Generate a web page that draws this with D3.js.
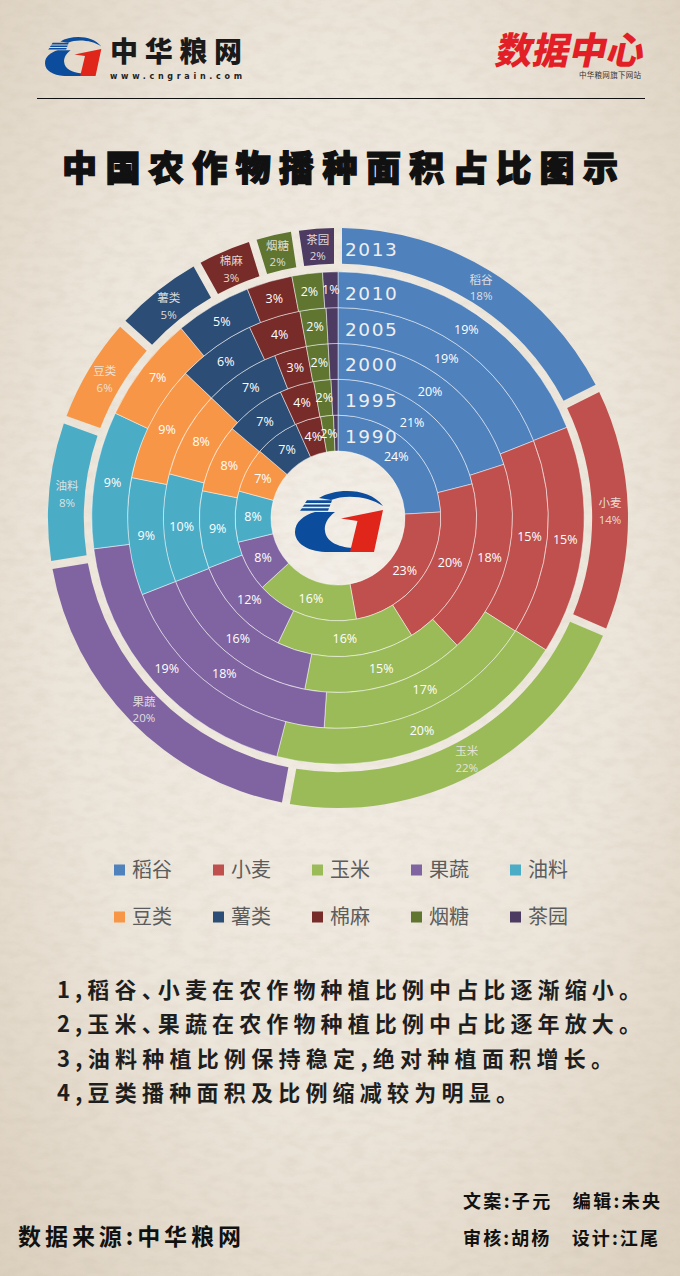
<!DOCTYPE html>
<html><head><meta charset="utf-8">
<script src="https://cdn.jsdelivr.net/npm/d3@7"></script>
<style>
html,body{margin:0;padding:0;background:#e8e0d3;}
svg{display:block;}
.halt{font-feature-settings:"halt" 1;}
</style></head>
<body>
<svg id="c" width="680" height="1276"></svg>
<script>
// ---------- data ----------
const categories = ["稻谷","小麦","玉米","果蔬","油料","豆类","薯类","棉麻","烟糖","茶园"];
const colors = ["#4f81bd","#c0504d","#9bbb59","#8064a2","#4bacc6","#f79646","#2c4d75","#772c2a","#5f7530","#4d3b62"];
const years = ["1990","1995","2000","2005","2010","2013"];
const share1990 = [24,23,16,8,8,7,7,4,2,0.7];
const share1995 = [21,20,16,12,9,8,7,4,2,0.8];
const share2000 = [20,18,15,16,10,8,7,3,2,0.9];
const share2005 = [19,15,17,18,9,9,6,4,2,0.9];
const share2010 = [19,15,20,19,9,7,5,3,2,1];
const share2013 = [18,14,22,20,8,6,5,3,2,2];
const title = "中国农作物播种面积占比图示";
const notes = [
  "1,稻谷、小麦在农作物种植比例中占比逐渐缩小。",
  "2,玉米、果蔬在农作物种植比例中占比逐年放大。",
  "3,油料种植比例保持稳定,绝对种植面积增长。",
  "4,豆类播种面积及比例缩减较为明显。"
];
const shares = [share1990, share1995, share2000, share2005, share2010, share2013];

// ---------- setup ----------
const svg = d3.select("#c");
const W = 680, H = 1276;
const defs = svg.append("defs");
const bg = defs.append("radialGradient").attr("id","bg").attr("cx","50%").attr("cy","45%").attr("r","75%");
bg.append("stop").attr("offset","0%").attr("stop-color","#f3eee7");
bg.append("stop").attr("offset","55%").attr("stop-color","#ece5da");
bg.append("stop").attr("offset","100%").attr("stop-color","#dbcfbd");
const f = defs.append("filter").attr("id","paper").attr("x",0).attr("y",0).attr("width","100%").attr("height","100%");
f.append("feTurbulence").attr("type","fractalNoise").attr("baseFrequency","0.06 0.12").attr("numOctaves",4).attr("seed",3).attr("result","n");
f.append("feColorMatrix").attr("type","matrix")
 .attr("values","0 0 0 0 0.45  0 0 0 0 0.38  0 0 0 0 0.28  0 0 0 -1.2 0.75");
svg.append("rect").attr("width",W).attr("height",H).attr("fill","url(#bg)");
svg.append("rect").attr("width",W).attr("height",H).attr("filter","url(#paper)").attr("opacity",0.18);

const CJK = "'Noto Sans CJK SC','Noto Sans',sans-serif";

// ---------- logo ----------
function drawLogo(g, x, y, s){
  const lg = g.append("g").attr("transform",`translate(${x},${y}) scale(${s})`);
  const blue = "#0b4c9c", red = "#e0251b";
  lg.append("path").attr("fill",blue)
    .attr("d","M24,10 C40,0 74,-1 88,18 C74,8 50,6 36,12 Z");
  [[12.3,15],[16.4,18.8],[20.2,22.7]].forEach((r,i)=>{
    lg.append("path").attr("fill",blue)
      .attr("d",`M${12-2.5*i},${r[0]} L${37-i*1.5},${r[0]} L${36-i*1.5},${r[1]} L${10-2.5*i},${r[1]} Z`);
  });
  lg.append("path").attr("fill",blue)
    .attr("d","M20,24 L40,24 C32,30 29,37 30,43 C31,53 42,59 58,60 L56,64 L30,64 C12,63 0,55 0,44 C0,34 9,27 20,24 Z");
  lg.append("path").attr("fill",red)
    .attr("d","M46,30.5 L88,22 L79,64 L55,64 L62.5,33 Z");
}

// ---------- header ----------
drawLogo(svg, 45, 35, 0.64);
svg.append("text").attr("x",110).attr("y",62).attr("font-family",CJK).attr("font-weight",900)
  .attr("font-size",28).attr("fill","#1a1a1a").attr("textLength",132).attr("lengthAdjust","spacing").text("中华粮网");
svg.append("text").attr("x",110).attr("y",79).attr("font-family","'DejaVu Sans',sans-serif").attr("font-weight","bold")
  .attr("font-size",8).attr("fill","#222").attr("textLength",132).attr("lengthAdjust","spacing").text("www.cngrain.com");
svg.append("text").attr("x",0).attr("y",0).attr("transform","translate(494,64) skewX(-12)")
  .attr("font-family",CJK).attr("font-weight",900).attr("font-size",37).attr("fill","#e21f26")
  .attr("textLength",148).attr("lengthAdjust","spacingAndGlyphs").text("数据中心");
svg.append("text").attr("x",579).attr("y",78).attr("font-family",CJK).attr("font-size",7.5)
  .attr("fill","#333").attr("textLength",62).attr("lengthAdjust","spacing").text("中华粮网旗下网站");
svg.append("line").attr("x1",37).attr("x2",645).attr("y1",98.5).attr("y2",98.5).attr("stroke","#111").attr("stroke-width",1);

// ---------- title ----------
svg.append("text").attr("x",62).attr("y",181).attr("font-family",CJK).attr("font-weight",900)
  .attr("font-size",35).attr("fill","#111").attr("stroke","#111").attr("stroke-width",1.4)
  .attr("textLength",556).attr("lengthAdjust","spacing").text(title);

// ---------- rings ----------
const cx = 338, cy = 518;
const band = d3.scaleBand().domain(years).range([67, 282]);
const gap2013 = 8;
const chart = svg.append("g").attr("transform",`translate(${cx},${cy})`);
const pie = d3.pie().sort(null).value(d=>d);
const pie2013 = d3.pie().sort(null).value(d=>d).padAngle(8/272);

years.forEach((yr, yi)=>{
  const last = yr === "2013";
  const r0 = band(yr) + (last ? gap2013 : 0);
  const r1 = r0 + band.bandwidth();
  const arcs = (last ? pie2013 : pie)(shares[yi]);
  const arc = d3.arc().innerRadius(r0).outerRadius(r1).padRadius(272);
  const g = chart.append("g");
  g.selectAll("path").data(arcs).join("path")
    .attr("d",arc)
    .attr("fill",(d,i)=>colors[i])
    .attr("stroke", last ? "none" : "rgba(255,255,255,0.6)")
    .attr("stroke-width",0.8);
  const lab = g.selectAll("text.v").data(arcs.filter(d=>d.data>=1)).join("text")
    .attr("class","v")
    .attr("transform",d=>`translate(${arc.centroid(d)})`)
    .attr("text-anchor","middle");
  if(!last){
    lab.attr("dy","0.35em").attr("font-family","'Open Sans',sans-serif").attr("font-size",12.5)
      .attr("fill","#fff").text(d=>d.data+"%");
  } else {
    lab.attr("font-family",CJK).attr("font-size",11.5).attr("fill","#ece8e4").attr("fill-opacity",0.92);
    lab.append("tspan").attr("x",0).attr("dy","-0.25em").text(d=>categories[d.index]);
    lab.append("tspan").attr("x",0).attr("dy","1.45em").attr("font-family","'Open Sans',sans-serif").text(d=>d.data+"%");
  }
  // year label
  chart.append("text").attr("x",7).attr("y",-(r0 + 0.4*band.bandwidth())).attr("dy","0.35em")
    .attr("font-family","'DejaVu Sans',sans-serif").attr("font-size",18.5).attr("letter-spacing",1.6)
    .attr("fill","#eeeeee").text(yr);
});

drawLogo(svg, 295, 488, 1.0);

// ---------- legend ----------
const leg = svg.append("g");
categories.forEach((c,i)=>{
  const col = i%5, row = Math.floor(i/5);
  const x = 114 + col*99, y = 870 + row*47;
  leg.append("rect").attr("x",x).attr("y",y-5.5).attr("width",11).attr("height",11).attr("fill",colors[i]);
  leg.append("text").attr("x",x+18).attr("y",y).attr("dy","0.36em").attr("font-family",CJK)
    .attr("font-size",20).attr("fill","#5c5c5c").text(c);
});

// ---------- notes ----------
const noteLen = [584, 584, 556, 461];
notes.forEach((t,i)=>{
  const tx = svg.append("text").attr("x",57).attr("y",998 + i*34.3).attr("font-family",CJK).attr("font-weight","bold")
    .attr("font-size",22).attr("fill","#1e1e1e").attr("textLength",noteLen[i]).attr("lengthAdjust","spacing");
  const parts = t.split("、");
  parts.forEach((p,j)=>{
    tx.append("tspan").text(p);
    if(j < parts.length-1) tx.append("tspan").attr("class","halt").text("、");
  });
});

// ---------- footer ----------
svg.append("text").attr("x",18).attr("y",1245).attr("font-family",CJK).attr("font-weight","bold")
  .attr("font-size",23).attr("fill","#111").attr("textLength",223).attr("lengthAdjust","spacing").text("数据来源:中华粮网");
svg.append("text").attr("x",463).attr("y",1208).attr("font-family",CJK).attr("font-weight","bold")
  .attr("font-size",18).attr("fill","#111").attr("textLength",197).attr("lengthAdjust","spacing").text("文案:子元　编辑:未央");
svg.append("text").attr("x",463).attr("y",1245).attr("font-family",CJK).attr("font-weight","bold")
  .attr("font-size",18).attr("fill","#111").attr("textLength",195).attr("lengthAdjust","spacing").text("审核:胡杨　设计:江尾");
</script>
</body></html>
